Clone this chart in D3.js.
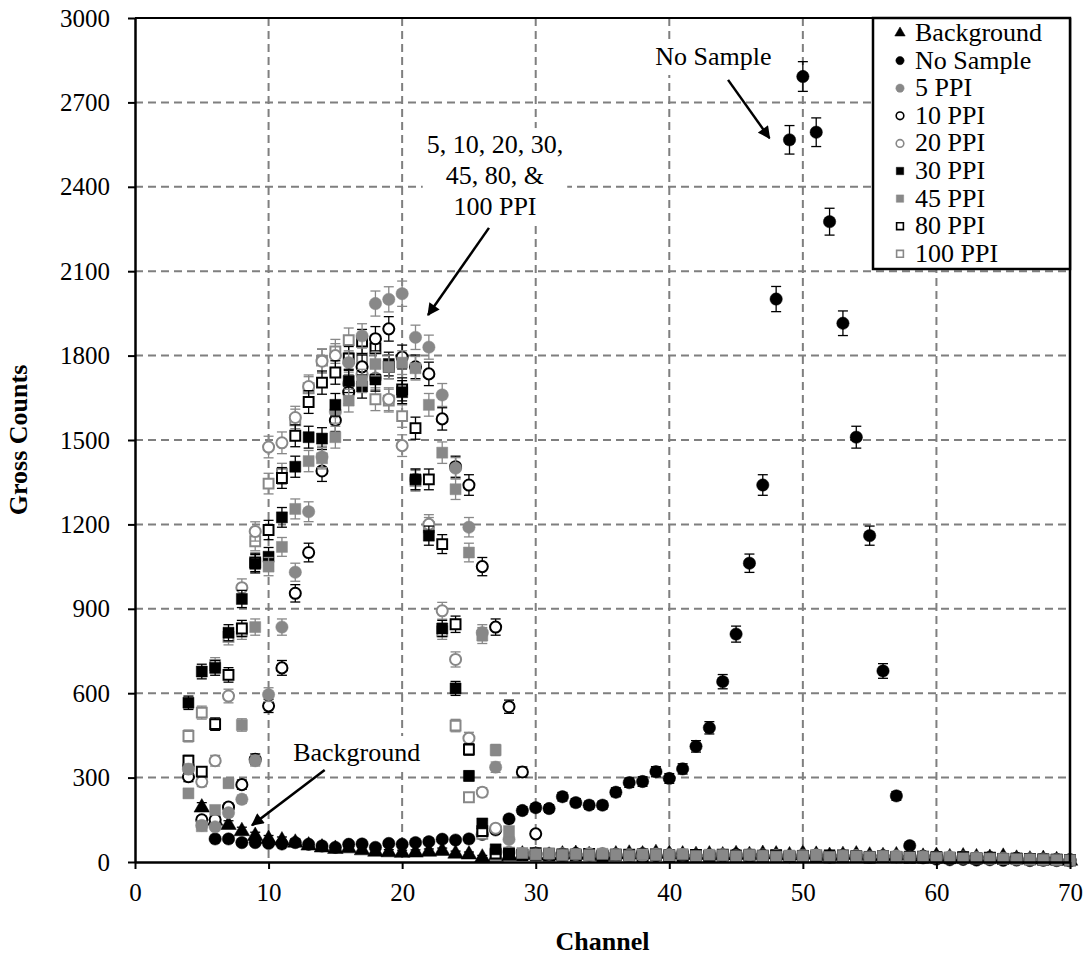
<!DOCTYPE html>
<html>
<head>
<meta charset="utf-8">
<script src="https://cdn.jsdelivr.net/npm/d3@7"></script>
<style>
  body { margin: 0; background: #fff; }
  svg { display: block; font-family: "Liberation Serif", "Times New Roman", serif; }
</style>
</head>
<body>
<svg id="chart" width="1086" height="956"></svg>
<script>
// gross counts per channel
const bgStart = 5;
const bgCounts = [197, 150, 135, 113, 96, 85, 80, 72, 62, 55, 50, 52, 45, 40, 38, 36, 37, 40, 43, 33, 30,
  19, 22, 25, 30, 28, 26, 30, 32, 28, 25, 30, 33, 30, 35, 32, 30, 28, 30, 27, 31, 28, 32, 30, 27, 33,
  29, 25, 28, 30, 26, 24, 27, 30, 22, 25, 20, 23, 20, 18, 22, 15, 12, 14, 10, 8];

const noSampleStart = 6;
const noSampleCounts = [82, 82, 69, 69, 66, 64, 69, 63, 57, 52, 63, 64, 52, 66, 63, 69, 72, 81, 78, 82,
  98, 114, 153, 183, 193, 190, 232, 211, 202, 202, 248, 282, 286, 321, 297, 331, 411, 477, 641, 810,
  1062, 1340, 2001, 2567, 2792, 2594, 2276, 1915, 1510, 1160, 679, 235, 58, 15, 10, 8, 9, 7, 8, 6,
  7, 5, 6, 5, 4];

const sampleStart = 4;
const ppi5Counts = [330, 130, 125, 175, 223, 360, 595, 835, 1030, 1245, 1440, 1600, 1775, 1870, 1985,
  2000, 2020, 1865, 1830, 1660, 1400, 1190, 815, 337, 80,
  30, 25, 28, 22, 26, 30, 24, 27, 25, 22, 28, 26, 24, 20, 23, 25, 22, 26, 21, 24, 20, 22, 25, 19, 21,
  23, 18, 20, 22, 17, 19, 16, 18, 14, 15, 12, 13, 10, 11, 9, 8, 7];
const ppi10Counts = [303, 150, 150, 195, 275, 365, 555, 690, 955, 1100, 1390, 1570, 1670, 1760, 1860,
  1895, 1795, 1760, 1735, 1575, 1405, 1340, 1050, 835, 552, 320, 100,
  28, 24, 30, 26, 22, 27, 25, 29, 23, 26, 24, 21, 25, 22, 27, 20, 24, 23, 19, 22, 25, 18, 21, 20, 17,
  22, 19, 16, 20, 18, 15, 17, 14, 16, 12, 13, 11, 10, 9, 8];
const ppi20Counts = [340, 285, 360, 590, 975, 1175, 1475, 1490, 1580, 1690, 1780, 1800, 1700, 1735, 1720,
  1645, 1480, 1360, 1200, 893, 720, 440, 248, 120,
  35, 28, 32, 25, 29, 27, 24, 30, 26, 23, 28, 25, 22, 27, 24, 21, 26, 23, 20, 25, 22, 19, 24, 21, 18,
  23, 20, 17, 21, 19, 16, 20, 17, 15, 18, 14, 16, 12, 13, 10, 11, 9, 8];
const ppi30Counts = [566, 677, 690, 815, 935, 1060, 1085, 1225, 1405, 1510, 1505, 1625, 1710, 1690, 1715,
  1770, 1670, 1360, 1160, 830, 617, 306, 137, 45,
  30, 26, 24, 29, 22, 27, 25, 21, 26, 23, 28, 24, 20, 25, 22, 19, 24, 21, 26, 20, 23, 18, 22, 19, 24,
  17, 21, 18, 20, 16, 19, 15, 17, 14, 16, 13, 14, 11, 12, 10, 9, 8, 7];
const ppi45Counts = [244, 127, 185, 280, 487, 835, 1050, 1120, 1255, 1425, 1435, 1510, 1640, 1710, 1770,
  1760, 1775, 1755, 1625, 1455, 1325, 1100, 805, 398, 110,
  32, 27, 30, 25, 28, 24, 29, 26, 22, 27, 25, 23, 28, 21, 26, 24, 20, 25, 22, 19, 23, 21, 24, 18, 22,
  20, 17, 21, 19, 16, 18, 15, 17, 13, 14, 12, 11, 10, 9, 8, 7, 6];
const ppi80Counts = [360, 321, 490, 665, 830, 1065, 1180, 1365, 1515, 1635, 1704, 1740, 1790, 1850, 1826,
  1760, 1680, 1542, 1360, 1130, 845, 400, 110, 30,
  28, 25, 31, 23, 27, 24, 29, 22, 26, 25, 21, 27, 23, 20, 25, 22, 26, 19, 23, 21, 24, 18, 22, 20, 17,
  23, 19, 16, 21, 18, 15, 19, 16, 14, 17, 13, 15, 11, 12, 10, 9, 8, 6];
const ppi100Counts = [448, 531, 700, 800, 820, 1140, 1345, 1380, 1570, 1684, 1782, 1815, 1855, 1790, 1645,
  1640, 1585, 1355, 1190, 820, 485, 230, 100, 25,
  33, 27, 24, 30, 26, 22, 28, 25, 23, 27, 21, 26, 24, 20, 25, 22, 19, 24, 21, 23, 18, 22, 20, 24, 17,
  21, 19, 16, 20, 18, 15, 18, 16, 13, 15, 12, 14, 10, 11, 9, 8, 7, 6];

const xTicks = [0, 10, 20, 30, 40, 50, 60, 70];
const yTicks = [0, 300, 600, 900, 1200, 1500, 1800, 2100, 2400, 2700, 3000];

const black = "#000";
const grey = "#888";

// z: drawing order (higher on top); legend keeps the array order
const series = [
  {name: "Background", start: bgStart, counts: bgCounts, shape: d3.symbolTriangle, color: black, filled: true, z: 0},
  {name: "No Sample", start: noSampleStart, counts: noSampleCounts, shape: d3.symbolCircle, color: black, filled: true, z: 1},
  {name: "5 PPI", start: sampleStart, counts: ppi5Counts, shape: d3.symbolCircle, color: grey, filled: true, z: 6},
  {name: "10 PPI", start: sampleStart, counts: ppi10Counts, shape: d3.symbolCircle, color: black, filled: false, z: 5},
  {name: "20 PPI", start: sampleStart, counts: ppi20Counts, shape: d3.symbolCircle, color: grey, filled: false, z: 3},
  {name: "30 PPI", start: sampleStart, counts: ppi30Counts, shape: d3.symbolSquare, color: black, filled: true, z: 7},
  {name: "45 PPI", start: sampleStart, counts: ppi45Counts, shape: d3.symbolSquare, color: grey, filled: true, z: 8},
  {name: "80 PPI", start: sampleStart, counts: ppi80Counts, shape: d3.symbolSquare, color: black, filled: false, z: 4},
  {name: "100 PPI", start: sampleStart, counts: ppi100Counts, shape: d3.symbolSquare, color: grey, filled: false, z: 2}
];

const width = 1086, height = 956;
const margin = {top: 18, right: 16, bottom: 94, left: 135};

const svg = d3.select("#chart");

const x = d3.scaleLinear().domain([0, 70]).range([margin.left, width - margin.right]);
const y = d3.scaleLinear().domain([0, 3000]).range([height - margin.bottom, margin.top]);

// dashed grid
const grid = svg.append("g").attr("stroke", "#7f7f7f").attr("stroke-width", 2).attr("stroke-dasharray", "8,5");
grid.selectAll(".vg").data(xTicks.slice(1, -1)).enter().append("line")
  .attr("x1", d => x(d)).attr("x2", d => x(d))
  .attr("y1", y(3000)).attr("y2", y(0));
grid.selectAll(".hg").data(yTicks.slice(1, -1)).enter().append("line")
  .attr("x1", x(0)).attr("x2", x(70))
  .attr("y1", d => y(d)).attr("y2", d => y(d));

// symbol size: area of marker
function symbolSize(shape, scale) {
  let s = shape === d3.symbolSquare ? 121 : shape === d3.symbolTriangle ? 105 : 120;
  return s * scale;
}

// data points with error bars (sqrt of gross counts)
const pts = svg.append("g");
series.slice().sort((a, b) => a.z - b.z).forEach(function(s) {
  let data = s.counts.map((c, i) => ({ch: s.start + i, c: c}));
  let g = pts.append("g");
  let eb = g.append("g").attr("stroke", s.color).attr("stroke-width", 1.3);
  data.forEach(function(d) {
    let e = Math.sqrt(d.c);
    let px = x(d.ch);
    let lo = Math.max(0, d.c - e);
    eb.append("line").attr("x1", px).attr("x2", px).attr("y1", y(d.c + e)).attr("y2", y(lo));
    eb.append("line").attr("x1", px - 5).attr("x2", px + 5).attr("y1", y(d.c + e)).attr("y2", y(d.c + e));
    eb.append("line").attr("x1", px - 5).attr("x2", px + 5).attr("y1", y(lo)).attr("y2", y(lo));
  });
  let sym = d3.symbol().type(s.shape).size(symbolSize(s.shape, s.filled ? 1 : 0.8));
  g.selectAll("path.m").data(data).enter().append("path")
    .attr("class", "m")
    .attr("d", sym)
    .attr("transform", d => "translate(" + x(d.ch) + "," + (y(d.c) + (s.shape === d3.symbolTriangle ? 1 : 0)) + ")")
    .attr("fill", s.filled ? s.color : "#fff")
    .attr("stroke", s.color)
    .attr("stroke-width", s.filled ? 0.5 : 2);
});

// axes
const xAxis = d3.axisBottom(x).tickValues(xTicks).tickSize(7).tickSizeOuter(0).tickPadding(14);
const yAxis = d3.axisLeft(y).tickValues(yTicks).tickFormat(d3.format("d")).tickSize(7).tickSizeOuter(0).tickPadding(18);

const gx = svg.append("g").attr("transform", "translate(0," + y(0) + ")").call(xAxis);
const gy = svg.append("g").attr("transform", "translate(" + x(0) + ",0)").call(yAxis);
[gx, gy].forEach(function(g) {
  g.select(".domain").attr("stroke", "#000").attr("stroke-width", 2.5);
  g.selectAll(".tick line").attr("stroke", "#000").attr("stroke-width", 2);
  g.selectAll(".tick text").attr("font-family", "Liberation Serif").attr("font-size", 25).attr("fill", "#000");
});

// top and right border
svg.append("line").attr("x1", x(0)).attr("x2", x(70)).attr("y1", y(3000)).attr("y2", y(3000))
  .attr("stroke", "#000").attr("stroke-width", 2);
svg.append("line").attr("x1", x(70)).attr("x2", x(70)).attr("y1", y(3000)).attr("y2", y(0))
  .attr("stroke", "#000").attr("stroke-width", 2.5);

// axis titles
svg.append("text")
  .attr("x", (x(0) + x(70)) / 2).attr("y", 950)
  .attr("text-anchor", "middle").attr("font-size", 26).attr("font-weight", "bold")
  .text("Channel");
svg.append("text")
  .attr("transform", "translate(27," + (y(0) + y(3000)) / 2 + ") rotate(-90)")
  .attr("text-anchor", "middle").attr("font-size", 26).attr("font-weight", "bold")
  .text("Gross Counts");

// annotations: text in data coordinates, white box behind
const notes = [
  {lines: ["No Sample"], ch: 43.3, c: 2833},
  {lines: ["5, 10, 20, 30,", "45, 80, &", "100 PPI"], ch: 26.95, c: 2520},
  {lines: ["Background"], ch: 16.6, c: 359}
];
const arrows = [
  {from: [44.4, 2780], to: [47.5, 2573]},
  {from: [26.5, 2254], to: [21.94, 1944]},
  {from: [14.2, 327], to: [8.76, 131]}
];

const ann = svg.append("g");
notes.forEach(function(n) {
  let box = ann.append("rect").attr("fill", "#fff");
  let t = ann.append("text")
    .attr("x", x(n.ch)).attr("y", y(n.c))
    .attr("text-anchor", "middle").attr("font-size", 26);
  n.lines.forEach(function(l, i) {
    t.append("tspan").attr("x", x(n.ch)).attr("dy", i === 0 ? 0 : 31).text(l);
  });
  let b = t.node().getBBox();
  box.attr("x", b.x - 4).attr("y", b.y - 2).attr("width", b.width + 8).attr("height", b.height + 6);
});

svg.append("defs").append("marker")
  .attr("id", "head").attr("viewBox", "0 0 10 10").attr("refX", 9).attr("refY", 5)
  .attr("markerWidth", 5.5).attr("markerHeight", 5).attr("orient", "auto")
  .append("path").attr("d", "M0,0L10,5L0,10Z").attr("fill", "#000");

arrows.forEach(function(a) {
  ann.append("line")
    .attr("x1", x(a.from[0])).attr("y1", y(a.from[1]))
    .attr("x2", x(a.to[0])).attr("y2", y(a.to[1]))
    .attr("stroke", "#000").attr("stroke-width", 2.5)
    .attr("marker-end", "url(#head)");
});

// legend
const lg = svg.append("g").attr("transform", "translate(873,18)");
lg.append("rect").attr("width", x(70) - 873).attr("height", 251)
  .attr("fill", "#fff").attr("stroke", "#000").attr("stroke-width", 2.5);
series.forEach(function(s, i) {
  let row = lg.append("g").attr("transform", "translate(0," + (23 + i * 27.6) + ")");
  let sz = symbolSize(s.shape, s.filled ? 0.45 : 0.38);
  row.append("path")
    .attr("d", d3.symbol().type(s.shape).size(sz))
    .attr("transform", "translate(27,-8)")
    .attr("fill", s.filled ? s.color : "#fff")
    .attr("stroke", s.color)
    .attr("stroke-width", s.filled ? 0.5 : 1.6);
  row.append("text").attr("x", 42).attr("y", 0).attr("font-size", 26).text(s.name);
});
</script>
</body>
</html>
